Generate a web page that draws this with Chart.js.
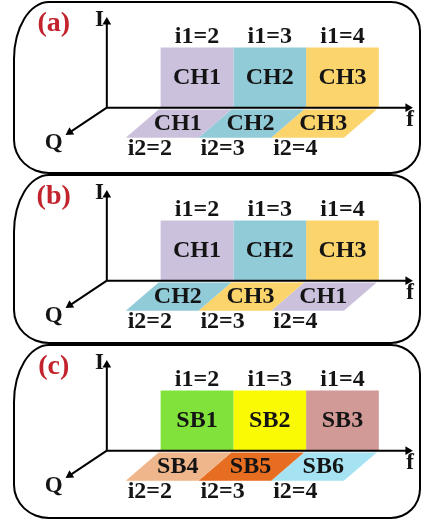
<!DOCTYPE html>
<html>
<head>
<meta charset="utf-8">
<script src="https://cdn.jsdelivr.net/npm/chart.js@4.4.1/dist/chart.umd.min.js"></script>
<style>
  html, body { margin: 0; padding: 0; background: #fff; }
  #page { position: relative; width: 422px; height: 521px; overflow: hidden; }
  #page canvas { position: absolute; left: 0; }
  .frame {
    position: absolute; box-sizing: border-box; left: 13px; width: 408px;
    border: 2.5px solid #000;
    border-radius: 36px 30px 30px 36px / 58px 30px 30px 34px;
    pointer-events: none;
  }
</style>
</head>
<body>
<div id="page"></div>
<script>
// ---- diagram content ----
const slots = [2, 3, 4];                           // slot index i along the f axis
const upperSlotLabels = ['i1=2', 'i1=3', 'i1=4'];
const lowerSlotLabels = ['i2=2', 'i2=3', 'i2=4'];
const panelTags = ['(a)', '(b)', '(c)'];
const upperBlocks = [['CH1', 'CH2', 'CH3'], ['CH1', 'CH2', 'CH3'], ['SB1', 'SB2', 'SB3']];
const lowerBlocks = [['CH1', 'CH2', 'CH3'], ['CH2', 'CH3', 'CH1'], ['SB4', 'SB5', 'SB6']];

// fill colour of each channel / sub-band
const blockColor = {
  CH1: '#cbc1dd', CH2: '#90cbd7', CH3: '#fbd56c',
  SB1: '#80e23a', SB2: '#fafa05', SB3: '#d29a96',
  SB4: '#efb68c', SB5: '#e76d20', SB6: '#a6e3f2'
};

// ---- geometry of the pseudo-3D frame (data units) ----
const ORIGIN_F = 0.76;           // where the I and Q axes leave the f axis
const BLOCK_H = 1;               // height of an I block
const Q_DF = -0.48, Q_DI = -0.5; // one unit of depth Q seen on the page
const DEPTH_TOP = 0.06, DEPTH_BOTTOM = 1.0;
const I_AXIS_END = 1.42, F_AXIS_END = 4.9;
const Q_AXIS_END = { f: 0.25, i: -0.41 };

const X_RANGE = [-0.64, 5.025];
const Y_RANGE = [-0.96875, 1.6875];
const CANVAS_W = 422, CANVAS_H = 170;
const frames = [{ top: 1, height: 173 }, { top: 174, height: 170 }, { top: 344, height: 175 }];

const INK = '#141414';
const TAG_RED = '#c3232c';
const FONT = '"Liberation Serif", "Times New Roman", serif';

function project(f, q) { return { x: f + q * Q_DF, y: q * Q_DI }; }

function polygon(points, color) {
  return {
    data: points.concat([points[0]]),
    showLine: true, fill: 'shape', tension: 0,
    backgroundColor: color, borderWidth: 0, pointRadius: 0
  };
}

function arrowRotation(ctx) {
  const pts = ctx.dataset.data, i = ctx.dataIndex;
  if (i === 0) return 0;
  const sx = ctx.chart.scales.x, sy = ctx.chart.scales.y;
  const dx = sx.getPixelForValue(pts[i].x) - sx.getPixelForValue(pts[i - 1].x);
  const dy = sy.getPixelForValue(pts[i].y) - sy.getPixelForValue(pts[i - 1].y);
  return Math.atan2(dx, -dy) * 180 / Math.PI;
}

function axis(endF, endI) {
  return {
    data: [{ x: ORIGIN_F, y: 0 }, { x: endF, y: endI }],
    showLine: true, fill: false, tension: 0,
    borderColor: '#000', borderWidth: 2, borderCapStyle: 'butt',
    pointRadius: [0, 5], pointStyle: 'triangle', pointRotation: arrowRotation,
    pointBackgroundColor: '#000', pointBorderWidth: 0
  };
}

// draws text items placed in data coordinates
const textMarks = {
  id: 'textMarks',
  afterDatasetsDraw(chart, args, opts) {
    const ctx = chart.ctx, sx = chart.scales.x, sy = chart.scales.y;
    ctx.save();
    ctx.textAlign = 'center';
    ctx.textBaseline = 'middle';
    for (const t of opts.items) {
      ctx.font = 'bold ' + t.size + 'px ' + FONT;
      ctx.fillStyle = t.color;
      ctx.fillText(t.text, sx.getPixelForValue(t.x), sy.getPixelForValue(t.y));
    }
    ctx.restore();
  }
};

const page = document.getElementById('page');

panelTags.forEach((tag, p) => {
  const canvas = document.createElement('canvas');
  canvas.width = CANVAS_W; canvas.height = CANVAS_H;
  canvas.style.top = frames[p].top + 'px';
  canvas.style.width = CANVAS_W + 'px'; canvas.style.height = CANVAS_H + 'px';
  page.appendChild(canvas);

  const frame = document.createElement('div');
  frame.className = 'frame';
  frame.style.top = frames[p].top + 'px';
  frame.style.height = frames[p].height + 'px';
  page.appendChild(frame);

  const datasets = [
    axis(ORIGIN_F, I_AXIS_END),
    axis(F_AXIS_END, 0),
    axis(Q_AXIS_END.f, Q_AXIS_END.i)
  ];
  const items = [
    { text: tag, x: 0.03, y: 1.40, color: TAG_RED, size: 28 },
    { text: 'I', x: 0.66, y: 1.45, color: INK, size: 23 },
    { text: 'f', x: 4.93, y: -0.2, color: INK, size: 23 },
    { text: 'Q', x: 0.03, y: -0.58, color: INK, size: 23 }
  ];

  slots.forEach((s, k) => {
    const up = upperBlocks[p][k];
    datasets.push(polygon([
      { x: s - 0.5, y: 0 }, { x: s + 0.5, y: 0 },
      { x: s + 0.5, y: BLOCK_H }, { x: s - 0.5, y: BLOCK_H }
    ], blockColor[up]));
    items.push({ text: up, x: s, y: BLOCK_H / 2, color: INK, size: 24 });
    items.push({ text: upperSlotLabels[k], x: s, y: 1.17, color: INK, size: 24 });

    const low = lowerBlocks[p][k];
    datasets.push(polygon([
      project(s - 0.5, DEPTH_TOP), project(s + 0.5, DEPTH_TOP),
      project(s + 0.5, DEPTH_BOTTOM), project(s - 0.5, DEPTH_BOTTOM)
    ], blockColor[low]));
    const mid = project(s, 0.55);
    items.push({ text: low, x: mid.x, y: mid.y, color: INK, size: 24 });
    const under = project(s, 1.35);
    items.push({ text: lowerSlotLabels[k], x: under.x, y: under.y, color: INK, size: 24 });
  });

  new Chart(canvas, {
    type: 'scatter',
    data: { datasets },
    options: {
      responsive: false, animation: false, events: [],
      layout: { padding: 0 },
      scales: {
        x: { type: 'linear', display: false, min: X_RANGE[0], max: X_RANGE[1] },
        y: { type: 'linear', display: false, min: Y_RANGE[0], max: Y_RANGE[1] }
      },
      plugins: { legend: { display: false }, tooltip: { enabled: false }, textMarks: { items } }
    },
    plugins: [textMarks]
  });
});
</script>
</body>
</html>
